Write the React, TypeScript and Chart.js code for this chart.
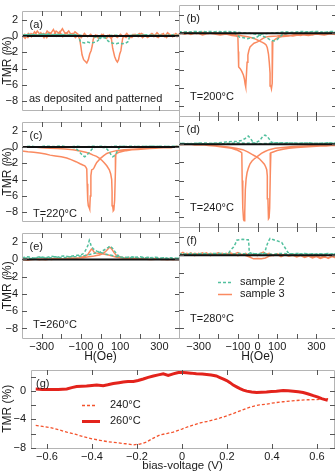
import React, { useEffect, useRef } from "react";
import { Chart, registerables } from "chart.js";
Chart.register(...registerables);

type P = [number, number];

// ---------- ticks & labels ----------
const hTicks = [-300, -200, -100, 0, 100, 200, 300];
const hLabels = [-300, -100, 0, 100, 300];
const tmrTicks = [-8, -6, -4, -2, 0, 2];
const vTicks = [-0.6, -0.4, -0.2, 0, 0.2, 0.4, 0.6];
const gTmrTicks = [-8, -6, -4, -2, 0, 2];

const panelLetters = ["(a)", "(b)", "(c)", "(d)", "(e)", "(f)", "(g)"];
const panelNotes = ["as deposited and patterned", "T=200°C", "T=220°C", "T=240°C", "T=260°C", "T=280°C"];
const sampleNames = ["sample 2", "sample 3"];
const biasNames = ["240°C", "260°C"];

// ---------- data (H in Oe, TMR in %) ; each list = sweep up then sweep down ----------
const a2: P[] = [[-400,0.1],[-360,0.2],[-320,0.1],[-280,0.25],[-240,0.15],[-200,0.2],[-160,0.1],[-130,0.15],[-112,0.0],[-104,-0.6],[-95,-0.8],[-80,-0.85],[-65,-0.75],[-50,-0.85],[-35,-0.8],[-20,-0.7],[-10,-0.5],[-4,-0.2],[10,-0.1],[40,0.05],[80,0.1],[120,0.0],[160,0.1],[200,0.05],[240,0.15],[280,0.05],[320,0.1],[360,0.0],[400,0.1],
  [400,0.05],[360,0.15],[320,0.0],[280,0.1],[240,0.05],[200,0.15],[160,0.05],[148,-0.1],[140,-0.7],[128,-0.9],[110,-0.95],[95,-0.85],[80,-0.95],[65,-0.9],[50,-0.8],[38,-0.6],[30,-0.3],[20,-0.2],[0,-0.3],[-20,-0.15],[-60,0.0],[-100,0.1],[-140,0.2],[-180,0.1],[-220,0.2],[-260,0.1],[-300,0.2],[-340,0.1],[-380,0.15],[-400,0.1]];
const a3: P[] = [[-400,0.1],[-384,-0.3],[-368,0.3],[-352,-0.1],[-336,0.5],[-320,0.0],[-304,0.4],[-288,-0.2],[-272,0.6],[-256,0.2],[-240,0.8],[-224,0.0],[-208,0.5],[-192,-0.1],[-176,0.4],[-160,0.1],[-144,0.3],[-128,-0.2],[-116,0.1],[-106,-0.4],[-100,-1.3],[-94,-2.3],[-86,-2.9],[-78,-3.1],[-70,-3.3],[-62,-2.9],[-55,-2.2],[-48,-1.8],[-42,-1.2],[-37,-0.4],[-26,0.1],[-10,-0.3],[6,0.2],[22,-0.2],[38,0.1],[54,-0.3],[70,0.1],[86,-0.2],[102,0.2],[118,-0.1],[134,0.3],[150,-0.2],[166,0.2],[182,0.0],[198,0.3],[214,-0.2],[230,0.1],[246,-0.1],[262,0.3],[278,0.0],[294,-0.2],[310,0.2],[326,-0.1],[342,0.4],[358,0.0],[374,0.2],[390,-0.1],[400,0.2],
  [400,0.0],[384,0.3],[368,-0.1],[352,0.2],[336,-0.2],[320,0.3],[304,0.0],[288,0.4],[272,-0.1],[256,0.2],[240,-0.2],[224,0.1],[208,0.3],[192,-0.1],[176,0.2],[160,-0.2],[144,0.1],[130,-0.2],[118,0.0],[113,-0.3],[109,-0.9],[104,-1.8],[98,-2.2],[92,-2.9],[86,-3.2],[80,-3.0],[72,-2.5],[62,-1.5],[56,-0.4],[46,0.1],[30,-0.3],[14,0.2],[-2,-0.2],[-18,0.1],[-34,-0.2],[-50,0.2],[-66,-0.1],[-82,0.3],[-98,-0.2],[-114,0.2],[-130,0.5],[-146,0.0],[-162,0.6],[-178,0.2],[-194,0.9],[-210,0.3],[-226,0.6],[-242,0.0],[-258,0.4],[-274,-0.2],[-290,0.3],[-306,0.1],[-322,0.6],[-338,0.0],[-354,0.3],[-370,-0.2],[-386,0.2],[-400,0.0]];

const b2: P[] = [[-400,0.05],[-360,0.15],[-320,0.1],[-280,0.2],[-240,0.1],[-200,0.2],[-160,0.1],[-120,0.05],[-104,-0.2],[-90,-0.45],[-70,-0.5],[-50,-0.6],[-30,-0.5],[-10,-0.55],[5,-0.3],[20,-0.1],[60,0.0],[100,0.05],[140,0.15],[180,0.1],[220,0.2],[260,0.15],[300,0.2],[340,0.1],[380,0.2],[400,0.15],
  [400,0.1],[360,0.15],[320,0.05],[280,0.15],[240,0.1],[200,0.05],[160,0.0],[130,-0.1],[115,-0.4],[100,-0.7],[85,-0.85],[70,-0.8],[55,-0.6],[40,-0.45],[25,-0.3],[0,-0.15],[-40,0.0],[-80,0.05],[-120,0.15],[-160,0.2],[-200,0.1],[-240,0.2],[-280,0.1],[-320,0.2],[-360,0.1],[-400,0.15]];
const b3: P[] = [[-400,-0.1],[-370,0.1],[-340,-0.15],[-310,0.05],[-280,-0.2],[-250,0.0],[-220,-0.1],[-190,-0.2],[-160,-0.1],[-130,-0.25],[-110,-0.3],[-100,-0.4],[-98,-2.0],[-96,-3.7],[-88,-3.9],[-80,-4.2],[-72,-4.6],[-67,-5.0],[-63,-5.6],[-60,-5.9],[-57,-4.8],[-53,-3.2],[-49,-2.4],[-44,-1.9],[-38,-1.5],[-28,-1.3],[-18,-1.1],[0,-0.95],[13,-0.8],[26,-0.6],[38,-0.45],[60,-0.35],[100,-0.3],[140,-0.2],[180,-0.3],[220,-0.15],[260,-0.25],[300,-0.1],[340,-0.2],[370,-0.05],[400,-0.15],
  [400,-0.1],[370,0.05],[340,-0.15],[310,0.0],[280,-0.2],[250,-0.1],[220,-0.25],[190,-0.15],[160,-0.3],[130,-0.35],[110,-0.45],[95,-0.6],[85,-0.75],[78,-0.85],[76,-3.0],[74,-5.5],[71,-6.1],[68,-5.8],[64,-4.4],[60,-3.2],[56,-2.3],[50,-1.6],[44,-1.3],[36,-1.15],[25,-1.0],[13,-0.9],[0,-0.75],[-15,-0.6],[-30,-0.5],[-50,-0.4],[-75,-0.3],[-100,-0.2],[-130,-0.15],[-160,0.0],[-190,-0.1],[-220,0.05],[-250,-0.05],[-280,0.1],[-310,-0.05],[-340,0.1],[-370,-0.1],[-400,0.05]];

const c2: P[] = [[-400,0.0],[-360,0.1],[-320,0.0],[-280,0.1],[-240,0.05],[-200,0.1],[-160,0.0],[-130,-0.1],[-115,-0.4],[-100,-0.8],[-88,-1.1],[-80,-1.2],[-70,-1.0],[-58,-0.7],[-46,-0.35],[-36,-0.1],[-20,0.0],[0,0.1],[40,0.0],[80,0.1],[120,0.05],[160,0.1],[200,0.0],[240,0.1],[280,0.05],[320,0.1],[360,0.0],[400,0.1],
  [400,0.05],[360,0.1],[320,0.0],[280,0.1],[240,0.05],[200,0.1],[160,0.0],[120,0.1],[100,0.05],[90,-0.3],[80,-0.75],[70,-1.1],[62,-1.2],[55,-1.0],[45,-0.6],[35,-0.3],[25,-0.1],[0,0.0],[-40,0.1],[-80,0.0],[-120,0.1],[-160,0.0],[-200,0.1],[-240,0.0],[-280,0.1],[-320,0.0],[-360,0.1],[-400,0.0]];
const c3: P[] = [[-400,-0.5],[-370,-0.6],[-340,-0.65],[-310,-0.75],[-280,-0.85],[-257,-1.0],[-230,-1.1],[-200,-1.2],[-172,-1.35],[-150,-1.55],[-125,-1.8],[-104,-2.05],[-90,-2.2],[-80,-2.3],[-74,-2.5],[-70,-2.7],[-68,-4.5],[-65,-6.5],[-62,-7.2],[-58,-7.4],[-55,-7.6],[-52,-6.0],[-49,-3.5],[-45,-2.8],[-41,-2.75],[-37,-2.7],[-32,-2.5],[-26,-2.2],[-19,-1.9],[-10,-1.65],[0,-1.4],[15,-1.1],[32,-0.8],[55,-0.6],[81,-0.45],[120,-0.35],[166,-0.27],[220,-0.2],[270,-0.15],[320,-0.1],[360,-0.1],[390,0.1],[400,-0.05],
  [400,-0.05],[370,0.0],[340,-0.1],[310,-0.1],[280,-0.15],[250,-0.2],[220,-0.25],[190,-0.3],[160,-0.35],[130,-0.45],[110,-0.55],[95,-0.65],[85,-0.75],[78,-0.9],[76,-3.0],[72,-6.5],[68,-7.7],[65,-7.8],[62,-7.2],[59,-5.5],[57,-4.0],[52,-3.3],[45,-2.8],[32,-2.3],[20,-1.95],[8,-1.65],[-5,-1.4],[-20,-1.15],[-37,-1.0],[-55,-0.8],[-75,-0.65],[-104,-0.5],[-140,-0.35],[-180,-0.25],[-220,-0.2],[-257,-0.15],[-300,-0.1],[-340,0.0],[-370,-0.05],[-400,0.05]];

const d2: P[] = [[-400,0.1],[-360,0.05],[-320,0.1],[-280,0.15],[-240,0.1],[-200,0.15],[-160,0.25],[-130,0.3],[-106,0.3],[-81,0.4],[-65,0.6],[-55,0.75],[-47,0.9],[-38,0.7],[-30,0.45],[-21,0.15],[-10,0.1],[20,0.05],[60,0.1],[100,0.15],[140,0.1],[180,0.15],[220,0.1],[260,0.15],[300,0.1],[340,0.1],[380,0.15],[400,0.1],
  [400,0.1],[360,0.15],[320,0.1],[280,0.1],[240,0.15],[200,0.1],[160,0.15],[120,0.15],[90,0.15],[72,0.2],[62,0.5],[50,0.85],[38,1.0],[28,0.9],[18,0.6],[8,0.35],[-5,0.2],[-20,0.15],[-60,0.1],[-100,0.15],[-140,0.1],[-180,0.05],[-220,0.1],[-260,0.05],[-300,0.1],[-340,0.05],[-380,0.1],[-400,0.05]];
const d3: P[] = [[-400,-0.05],[-360,0.05],[-320,-0.1],[-280,-0.05],[-250,-0.15],[-216,-0.2],[-180,-0.3],[-150,-0.4],[-132,-0.45],[-110,-0.6],[-89,-0.8],[-80,-0.95],[-78,-4.0],[-75,-7.0],[-71,-8.3],[-68,-8.4],[-65,-7.5],[-62,-5.0],[-58,-3.8],[-53,-3.1],[-46,-2.6],[-38,-2.15],[-28,-1.85],[-13,-1.55],[5,-1.25],[20,-1.0],[38,-0.8],[60,-0.6],[90,-0.45],[130,-0.35],[180,-0.25],[240,-0.2],[300,-0.15],[350,-0.2],[400,-0.1],
  [400,-0.15],[360,-0.1],[320,-0.2],[280,-0.25],[240,-0.3],[200,-0.35],[160,-0.45],[130,-0.55],[100,-0.7],[80,-0.85],[68,-0.95],[65,-3.5],[62,-7.0],[59,-8.1],[56,-8.2],[53,-6.0],[50,-3.5],[47,-2.8],[42,-2.5],[35,-2.2],[25,-1.95],[12,-1.65],[0,-1.45],[-13,-1.3],[-30,-1.1],[-50,-0.85],[-75,-0.6],[-110,-0.45],[-150,-0.3],[-200,-0.2],[-250,-0.1],[-300,-0.1],[-350,0.0],[-400,-0.05]];

const e2: P[] = [[-400,0.2],[-370,0.3],[-340,0.15],[-310,0.3],[-280,0.2],[-250,0.35],[-220,0.25],[-190,0.4],[-160,0.3],[-130,0.45],[-110,0.5],[-91,0.6],[-80,0.9],[-70,1.3],[-63,1.7],[-57,2.2],[-52,1.9],[-47,1.5],[-38,1.25],[-28,1.05],[-19,0.95],[-5,0.85],[10,0.75],[30,0.6],[60,0.45],[90,0.3],[120,0.25],[160,0.2],[200,0.3],[240,0.15],[280,0.25],[320,0.1],[360,0.2],[400,0.1],
  [400,0.15],[360,0.05],[320,0.2],[280,0.1],[240,0.25],[200,0.15],[160,0.3],[120,0.2],[97,0.3],[81,0.65],[72,0.95],[65,1.2],[56,1.4],[48,1.55],[40,1.4],[27,1.2],[12,1.0],[0,0.85],[-15,0.8],[-30,0.7],[-50,0.6],[-80,0.45],[-110,0.35],[-150,0.3],[-190,0.2],[-230,0.3],[-270,0.15],[-310,0.25],[-350,0.1],[-400,0.2]];
const e3: P[] = [[-400,0.0],[-370,-0.1],[-340,0.05],[-310,-0.05],[-280,0.1],[-250,0.0],[-220,0.1],[-190,0.05],[-160,0.15],[-130,0.1],[-110,0.15],[-90,0.3],[-75,0.45],[-65,0.55],[-58,0.8],[-52,1.0],[-46,1.2],[-40,1.1],[-33,0.85],[-25,0.75],[-10,0.7],[5,0.65],[20,0.6],[40,0.5],[60,0.4],[81,0.25],[110,0.15],[140,0.1],[180,0.05],[220,0.1],[260,0.0],[300,0.05],[340,-0.05],[380,0.05],[400,0.0],
  [400,0.05],[370,-0.05],[340,0.05],[310,0.0],[280,0.1],[250,0.0],[220,0.05],[180,0.1],[150,0.15],[120,0.2],[95,0.3],[80,0.5],[70,0.75],[60,1.1],[52,1.35],[45,1.4],[38,1.2],[30,1.0],[22,0.85],[10,0.65],[-5,0.5],[-20,0.45],[-40,0.35],[-60,0.3],[-90,0.2],[-120,0.15],[-160,0.1],[-200,0.05],[-240,0.1],[-280,-0.05],[-320,0.05],[-360,-0.05],[-400,0.05]];

const f2: P[] = [[-400,0.15],[-370,0.1],[-340,0.2],[-310,0.1],[-280,0.2],[-250,0.15],[-220,0.1],[-190,0.2],[-160,0.15],[-145,0.3],[-135,0.6],[-122,0.9],[-112,1.3],[-106,1.65],[-90,1.7],[-75,1.75],[-60,1.7],[-47,1.7],[-44,1.2],[-42,0.3],[-30,0.2],[-10,0.15],[10,0.2],[40,0.15],[80,0.1],[120,0.2],[160,0.15],[200,0.1],[240,0.2],[280,0.1],[320,0.15],[360,0.1],[400,0.15],
  [400,0.1],[360,0.2],[320,0.1],[280,0.15],[240,0.1],[200,0.2],[170,0.15],[155,0.3],[148,0.55],[138,0.9],[123,1.4],[105,1.55],[89,1.65],[75,1.75],[64,1.85],[55,1.5],[46,1.0],[40,0.5],[35,0.2],[20,0.15],[0,0.1],[-30,0.2],[-60,0.15],[-100,0.2],[-140,0.1],[-180,0.15],[-220,0.2],[-260,0.1],[-300,0.15],[-340,0.1],[-400,0.15]];
const f3: P[] = [[-400,0.1],[-380,0.3],[-360,0.0],[-340,0.25],[-320,-0.05],[-300,0.2],[-280,0.05],[-260,0.25],[-240,-0.05],[-220,0.15],[-200,0.0],[-180,0.2],[-160,0.05],[-140,0.25],[-120,0.1],[-100,0.3],[-80,0.05],[-60,0.2],[-40,-0.1],[-20,0.1],[0,-0.05],[15,0.2],[30,0.35],[45,0.1],[60,0.2],[80,-0.05],[100,0.1],[120,-0.15],[140,0.05],[160,-0.1],[180,0.0],[200,-0.2],[220,-0.05],[240,-0.25],[260,-0.1],[280,-0.3],[300,-0.15],[320,-0.35],[340,-0.2],[360,-0.3],[380,-0.1],[400,-0.25],
  [400,-0.3],[380,-0.15],[360,-0.35],[340,-0.1],[320,-0.25],[300,-0.05],[280,-0.2],[260,0.0],[240,-0.15],[220,0.05],[200,-0.1],[180,0.1],[160,-0.05],[140,0.1],[120,0.0],[100,0.15],[80,0.0],[60,-0.1],[40,-0.3],[20,-0.4],[0,-0.35],[-20,-0.4],[-40,-0.2],[-60,-0.05],[-80,0.1],[-100,-0.05],[-120,0.15],[-140,0.0],[-160,0.2],[-180,0.05],[-200,0.25],[-220,0.1],[-240,0.2],[-260,0.0],[-280,0.25],[-300,0.1],[-320,0.2],[-340,0.0],[-360,0.2],[-380,0.05],[-400,0.15]];

// bias-voltage (V) vs TMR (%)
const g240: P[] = [[-0.65,-4.85],[-0.62,-5.0],[-0.587,-5.15],[-0.55,-5.45],[-0.512,-5.8],[-0.475,-6.1],[-0.439,-6.44],[-0.4,-6.75],[-0.365,-6.96],[-0.33,-7.15],[-0.29,-7.3],[-0.25,-7.45],[-0.216,-7.6],[-0.187,-7.5],[-0.157,-7.2],[-0.127,-6.65],[-0.098,-6.2],[-0.068,-6.0],[-0.039,-5.8],[0.0,-5.37],[0.036,-4.94],[0.081,-4.5],[0.11,-4.3],[0.14,-4.08],[0.17,-3.8],[0.199,-3.5],[0.23,-3.15],[0.258,-2.8],[0.29,-2.4],[0.317,-2.14],[0.345,-1.95],[0.376,-1.84],[0.41,-1.65],[0.45,-1.5],[0.49,-1.38],[0.524,-1.29],[0.56,-1.22],[0.598,-1.2],[0.636,-1.1],[0.65,-1.05]];
const g260: P[] = [[-0.65,0.3],[-0.62,0.25],[-0.587,0.22],[-0.55,0.25],[-0.512,0.3],[-0.49,0.5],[-0.468,0.65],[-0.445,0.7],[-0.424,0.73],[-0.4,0.8],[-0.379,0.86],[-0.35,0.78],[-0.33,0.9],[-0.305,1.08],[-0.28,1.2],[-0.261,1.3],[-0.24,1.35],[-0.216,1.37],[-0.195,1.5],[-0.172,1.72],[-0.15,1.95],[-0.127,2.15],[-0.105,2.3],[-0.083,2.45],[-0.061,2.23],[-0.039,2.45],[-0.02,2.6],[-0.009,2.67],[0.02,2.6],[0.04,2.55],[0.064,2.45],[0.09,2.42],[0.11,2.36],[0.13,2.28],[0.153,2.15],[0.169,1.93],[0.185,1.7],[0.199,1.5],[0.214,1.2],[0.228,0.86],[0.243,0.6],[0.258,0.35],[0.273,0.15],[0.288,0.0],[0.31,-0.12],[0.332,-0.2],[0.354,-0.15],[0.376,-0.12],[0.398,-0.05],[0.42,0.0],[0.45,0.1],[0.472,0.05],[0.495,0.0],[0.517,-0.1],[0.539,-0.2],[0.562,-0.4],[0.584,-0.64],[0.605,-0.85],[0.621,-1.07],[0.636,-1.2],[0.648,-1.3]];

const panelData: [P[], P[]][] = [[a2, a3], [b2, b3], [c2, c3], [d2, d3], [e2, e3], [f2, f3]];

// ---------- style ----------
const FONT = '"Liberation Sans", Arial, Helvetica, sans-serif';
const TEAL = "#52c09e";
const ORANGE = "#fa8a60";
const RED_D = "#f4532d";
const RED_S = "#e3231c";
const FRAME = "#b4b4b4";
const TICK = "#555";
const TXT = "#1a1a1a";

const fmt = (v: number) => String(v).replace("-", "\u2212");
const toXY = (arr: P[]) => arr.map(([x, y]) => ({ x, y }));

function drawFrame(chart: any, xt: number[], yt: number[]) {
  const { ctx, chartArea, scales } = chart;
  const l = Math.round(chartArea.left), r = Math.round(chartArea.right);
  const t = Math.round(chartArea.top), b = Math.round(chartArea.bottom);
  ctx.save();
  ctx.lineWidth = 1;
  ctx.strokeStyle = FRAME;
  ctx.beginPath();
  ctx.moveTo(l + 0.5, t + 0.5); ctx.lineTo(r + 0.5, t + 0.5);
  ctx.lineTo(r + 0.5, b + 0.5); ctx.lineTo(l + 0.5, b + 0.5); ctx.closePath();
  ctx.stroke();
  ctx.strokeStyle = TICK;
  ctx.beginPath();
  for (const v of xt) {
    const px = Math.round(scales.x.getPixelForValue(v)) + 0.5;
    ctx.moveTo(px, t); ctx.lineTo(px, t + 5);
    ctx.moveTo(px, b + 1); ctx.lineTo(px, b - 4);
  }
  for (const v of yt) {
    const py = Math.round(scales.y.getPixelForValue(v)) + 0.5;
    ctx.moveTo(l, py); ctx.lineTo(l + 5, py);
    ctx.moveTo(r + 1, py); ctx.lineTo(r - 4, py);
  }
  ctx.stroke();
  ctx.restore();
  return { l, r, t, b };
}

function text(ctx: any, s: string, x: number, y: number, size = 11) {
  ctx.save();
  ctx.fillStyle = TXT;
  ctx.font = `${size}px ${FONT}`;
  ctx.textAlign = "left";
  ctx.textBaseline = "middle";
  ctx.fillText(s, x, y);
  ctx.restore();
}

function legendLine(ctx: any, x1: number, x2: number, y: number, color: string, w: number, dash: number[]) {
  ctx.save();
  ctx.strokeStyle = color; ctx.lineWidth = w; ctx.setLineDash(dash);
  ctx.beginPath(); ctx.moveTo(x1, y); ctx.lineTo(x2, y); ctx.stroke();
  ctx.restore();
}

function smallConfig(idx: number): any {
  const col = idx % 2, row = Math.floor(idx / 2);
  const bottomRow = row === 2;
  const leftCol = col === 0;
  const [s2, s3] = panelData[idx];
  const decor = {
    id: "decor" + idx,
    afterDraw(chart: any) {
      const { l, t } = drawFrame(chart, hTicks, tmrTicks);
      const ctx = chart.ctx;
      text(ctx, panelLetters[idx], l + 7.5, t + 13.5);
      if (idx === 0) text(ctx, panelNotes[0], l + 7, t + 88);
      else text(ctx, panelNotes[idx], l + 11, t + 91.5);
      if (idx === 5) {
        legendLine(ctx, l + 39, l + 53, t + 55.5, TEAL, 1.5, [3, 2]);
        text(ctx, sampleNames[0], l + 61, t + 55);
        legendLine(ctx, l + 39, l + 53, t + 67.5, ORANGE, 1.5, []);
        text(ctx, sampleNames[1], l + 61, t + 67);
      }
    },
  };
  return {
    type: "line",
    data: {
      datasets: [
        { data: [{ x: -400, y: 0 }, { x: 400, y: 0 }], borderColor: "#111", borderWidth: 2 },
        { data: toXY(s2), borderColor: TEAL, borderWidth: 1.5, borderDash: [3, 2] },
        { data: toXY(s3), borderColor: ORANGE, borderWidth: 1.5 },
      ],
    },
    options: {
      animation: false,
      responsive: false,
      devicePixelRatio: 1,
      events: [],
      layout: { padding: { left: leftCol ? 0 : 2, right: leftCol ? 2 : 1, top: 5, bottom: bottomRow ? 0 : 5 } },
      plugins: { legend: { display: false }, tooltip: { enabled: false } },
      elements: { point: { radius: 0 }, line: { tension: 0, fill: false } },
      datasets: { line: { clip: 0 } },
      scales: {
        x: {
          type: "linear", min: -400, max: 400,
          afterBuildTicks: (s: any) => { s.ticks = hTicks.map((v) => ({ value: v })); },
          afterFit: (s: any) => { s.height = bottomRow ? 30 : 0; },
          grid: { display: false, drawTicks: false },
          border: { display: false },
          ticks: {
            display: bottomRow, padding: 2, autoSkip: false, maxRotation: 0, color: TXT,
            font: { family: FONT, size: 11 },
            callback: (v: any) => (hLabels.includes(Number(v)) ? fmt(Number(v)) : ""),
          },
          title: { display: bottomRow, text: "H(Oe)", color: TXT, font: { family: FONT, size: 12 }, padding: { top: 0, bottom: 4 } },
        },
        y: {
          type: "linear", min: -9.1, max: 3.1,
          afterBuildTicks: (s: any) => { s.ticks = tmrTicks.map((v) => ({ value: v })); },
          afterFit: (s: any) => { s.width = leftCol ? 22 : 0; },
          grid: { display: false, drawTicks: false },
          border: { display: false },
          ticks: {
            display: leftCol, padding: 4, color: TXT, font: { family: FONT, size: 11 },
            callback: (v: any) => fmt(Number(v)),
          },
          title: { display: leftCol, text: "TMR (%)", color: TXT, font: { family: FONT, size: 12 }, padding: { top: 0, bottom: 0 } },
        },
      },
    },
    plugins: [decor],
  };
}

function biasConfig(): any {
  const decor = {
    id: "decorG",
    afterDraw(chart: any) {
      const { l, t } = drawFrame(chart, vTicks, gTmrTicks);
      const ctx = chart.ctx;
      text(ctx, panelLetters[6], l + 5, t + 14);
      legendLine(ctx, l + 51, l + 66, t + 35.5, RED_D, 1.3, [3, 2]);
      text(ctx, biasNames[0], l + 79, t + 35);
      legendLine(ctx, l + 51, l + 69, t + 51.5, RED_S, 3, []);
      text(ctx, biasNames[1], l + 79, t + 51);
    },
  };
  return {
    type: "line",
    data: {
      datasets: [
        { data: toXY(g260), borderColor: RED_S, borderWidth: 3 },
        { data: toXY(g240), borderColor: RED_D, borderWidth: 1.3, borderDash: [3, 2] },
      ],
    },
    options: {
      animation: false,
      responsive: false,
      devicePixelRatio: 1,
      events: [],
      layout: { padding: { left: 0, right: 3, top: 5, bottom: 0 } },
      plugins: { legend: { display: false }, tooltip: { enabled: false } },
      elements: { point: { radius: 0 }, line: { tension: 0, fill: false } },
      datasets: { line: { clip: 0 } },
      scales: {
        x: {
          type: "linear", min: -0.671, max: 0.676,
          afterBuildTicks: (s: any) => { s.ticks = vTicks.map((v) => ({ value: v })); },
          afterFit: (s: any) => { s.height = 25; },
          grid: { display: false, drawTicks: false },
          border: { display: false },
          ticks: {
            padding: 2, autoSkip: false, maxRotation: 0, color: TXT, font: { family: FONT, size: 11 },
            callback: (v: any) => fmt(Number(v)),
          },
          title: { display: true, text: "bias-voltage (V)", color: TXT, font: { family: FONT, size: 11.5 }, padding: { top: 0, bottom: 0 } },
        },
        y: {
          type: "linear", min: -8.05, max: 3.05,
          afterBuildTicks: (s: any) => { s.ticks = gTmrTicks.map((v) => ({ value: v })); },
          afterFit: (s: any) => { s.width = 31; },
          grid: { display: false, drawTicks: false },
          border: { display: false },
          ticks: { padding: 5, color: TXT, font: { family: FONT, size: 11 }, callback: (v: any) => fmt(Number(v)) },
          title: { display: true, text: "TMR (%)", color: TXT, font: { family: FONT, size: 12 }, padding: { top: 0, bottom: 0 } },
        },
      },
    },
    plugins: [decor],
  };
}

function ChartCanvas(props: { left: number; top: number; width: number; height: number; make: () => any }) {
  const ref = useRef<HTMLCanvasElement | null>(null);
  useEffect(() => {
    if (!ref.current) return;
    const chart = new Chart(ref.current, props.make());
    return () => chart.destroy();
  }, []);
  return (
    <canvas
      ref={ref}
      width={props.width}
      height={props.height}
      style={{ position: "absolute", left: props.left, top: props.top, width: props.width, height: props.height }}
    />
  );
}

const rowTops = [5, 116, 227];
const panelH = 111;

export default function App() {
  const panels = [0, 1, 2, 3, 4, 5].map((i) => {
    const col = i % 2, row = Math.floor(i / 2);
    const bottomRow = row === 2;
    const left = col === 0 ? 0 : 177;
    const width = col === 0 ? 181 : 160;
    const top = rowTops[row] - 5;
    const height = 5 + panelH + (bottomRow ? 30 : 5);
    return <ChartCanvas key={i} left={left} top={top} width={width} height={height} make={() => smallConfig(i)} />;
  });
  return (
    <div style={{ position: "absolute", left: 0, top: 0, width: 335, height: 474, overflow: "hidden", background: "#fff" }}>
      {panels}
      <ChartCanvas left={0} top={358} width={337} height={115} make={() => biasConfig()} />
    </div>
  );
}
